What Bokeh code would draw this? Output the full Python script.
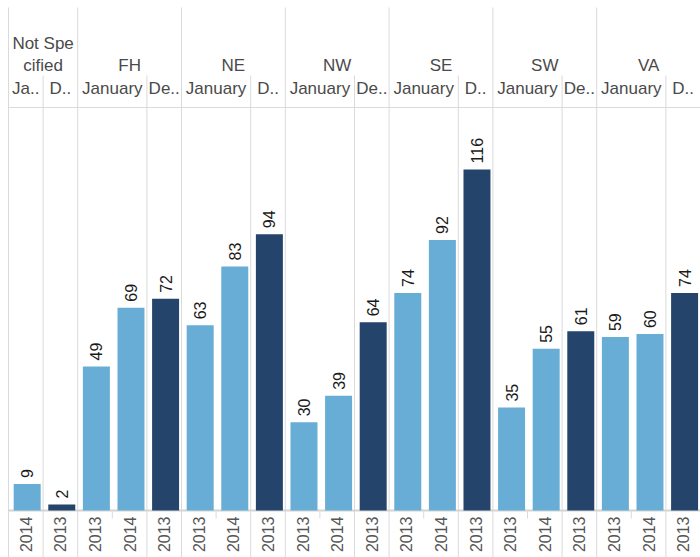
import math
from bokeh.plotting import figure
from bokeh.models import Range1d, ColumnDataSource
from bokeh.core.properties import value
from bokeh.embed import file_html
from bokeh.resources import INLINE

# ---- data ----
regions = ["Not Specified", "FH", "NE", "NW", "SE", "SW", "VA"]
region_labels = ["Not Spe\ncified", "FH", "NE", "NW", "SE", "SW", "VA"]
bar_region = ["Not Specified", "Not Specified",
              "FH", "FH", "FH", "NE", "NE", "NE", "NW", "NW", "NW",
              "SE", "SE", "SE", "SW", "SW", "SW", "VA", "VA", "VA"]
bar_month = ["January", "December"] + ["January", "January", "December"] * 6
bar_year = ["2014", "2013"] + ["2013", "2014", "2013"] * 6
counts = [9, 2, 49, 69, 72, 63, 83, 94, 30, 39, 64, 74, 92, 116, 35, 55, 61, 59, 60, 74]
month_labels = ["Ja..", "D..", "January", "De..", "January", "D..", "January", "De..",
                "January", "D..", "January", "De..", "January", "D.."]
month_colors = {"January": "#67ADD6", "December": "#24446C"}

# ---- geometry (page pixels -> data units) ----
W, H = 700, 557
LEFT = 8
n = len(counts)
CELL = (W - LEFT) / n
BASE_PAGE = 510
PX = 2.94  # pixels per count unit


def py(page_y):
    return (BASE_PAGE - page_y) / PX


p = figure(width=W, height=H, output_backend="svg", toolbar_location=None,
           x_range=Range1d(-LEFT / CELL, n), y_range=Range1d(py(H), py(0)),
           x_axis_location=None, y_axis_location=None, min_border=0)
p.grid.visible = False
p.outline_line_color = None
p.background_fill_color = "white"
p.border_fill_color = "white"

GRID = "#dadada"
FONT = value("Liberation Sans")
TOP_LINE = 7
HEAD_COLOR = "#4a4a4a"

# month groups (in order)
groups = []
for i in range(n):
    key = (bar_region[i], bar_month[i])
    if not groups or groups[-1][0] != key:
        groups.append([key, [i]])
    else:
        groups[-1][1].append(i)

# region boundaries
region_starts = [bar_region.index(r) for r in regions]
p.segment(x0=region_starts, x1=region_starts,
          y0=[py(TOP_LINE)] * len(region_starts), y1=[py(H)] * len(region_starts),
          line_color=GRID, line_width=1)

# month boundaries inside regions
mb = [g[1][0] for g in groups if g[1][0] not in region_starts]
p.segment(x0=mb, x1=mb, y0=[py(75)] * len(mb), y1=[py(H)] * len(mb),
          line_color=GRID, line_width=1)

# year ticks inside month groups
yt = []
for g in groups:
    for j in g[1][1:]:
        yt.append(j)
p.segment(x0=yt, x1=yt, y0=[py(511)] * len(yt), y1=[py(518)] * len(yt),
          line_color=GRID, line_width=1)

# header separator and baseline
p.segment(x0=[0], x1=[n], y0=[py(107)], y1=[py(107)], line_color=GRID, line_width=1)
p.segment(x0=[0], x1=[n], y0=[0], y1=[0], line_color="#d4d4d4", line_width=2)

# bars
xs = [i + 0.5 + 0.04 for i in range(n)]
src = ColumnDataSource(dict(x=xs, top=counts,
                            color=[month_colors[m] for m in bar_month],
                            label=[str(c) for c in counts],
                            ly=[c + 6 / PX for c in counts],
                            year=bar_year, xc=[i + 0.5 for i in range(n)]))
p.vbar(x="x", top="top", bottom=0, width=0.78, fill_color="color",
       line_color=None, source=src)

# value labels
p.text(x="x", y="ly", text="label", angle=math.pi / 2, text_align="left",
       text_baseline="middle", text_font=FONT, text_font_size="16px",
       text_color="#1a1a1a", source=src)

# year labels
p.text(x="xc", y=py(516), text="year", angle=math.pi / 2, text_align="right",
       text_baseline="middle", text_font=FONT, text_font_size="16px",
       text_color="#555555", source=src)

# region headers
rx, ry, rt = [], [], []
for r, lab in zip(regions, region_labels):
    idx = [i for i in range(n) if bar_region[i] == r]
    cx = (idx[0] + idx[-1] + 1) / 2
    lines = lab.split("\n")
    for k, ln in enumerate(reversed(lines)):
        rx.append(cx)
        ry.append(py(65 - 22 * k))
        rt.append(ln)
p.text(x=rx, y=ry, text=rt, text_align="center", text_baseline="alphabetic",
       text_font=FONT, text_font_size="17px", text_color=HEAD_COLOR)

# month headers
mx = [(g[1][0] + g[1][-1] + 1) / 2 for g in groups]
p.text(x=mx, y=[py(88)] * len(mx), text=month_labels, text_align="center",
       text_baseline="alphabetic", text_font=FONT, text_font_size="17px",
       text_color=HEAD_COLOR)

open("out.html", "w").write(file_html(p, INLINE))
